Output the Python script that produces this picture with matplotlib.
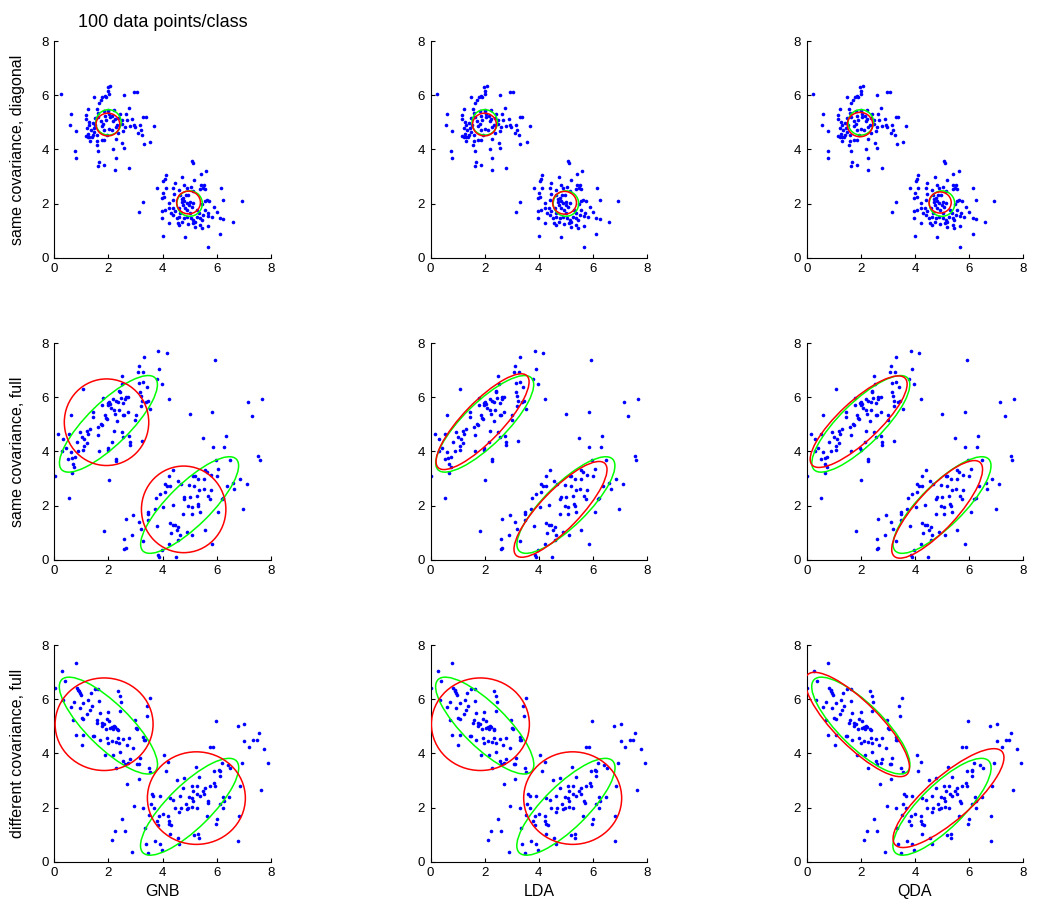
import numpy as np
import matplotlib
matplotlib.use("Agg")
import matplotlib.pyplot as plt
from matplotlib.patches import Ellipse

plt.rcParams['font.family'] = ['Liberation Sans', 'DejaVu Sans']

row_labels = ["same covariance, diagonal", "same covariance, full", "different covariance, full"]
col_labels = ["GNB", "LDA", "QDA"]
title_text = "100 data points/class"
ticks = [0, 2, 4, 6, 8]

# ---------------- data: row 1 (same covariance, diagonal) ----------------
diag_class1 = [
    (0.25, 6.06), (0.61, 5.32), (0.58, 4.90), (0.79, 4.69), (0.77, 3.93), (0.80, 3.67),
    (1.17, 5.29), (1.23, 5.48), (1.16, 5.14), (1.28, 5.01), (1.22, 4.79), (1.30, 4.89),
    (1.34, 4.73), (1.26, 4.57), (1.30, 4.47), (1.32, 4.33), (1.23, 4.47), (1.16, 4.51),
    (1.39, 4.47), (1.42, 4.54), (1.47, 4.79), (1.48, 4.63), (1.50, 5.16), (1.48, 5.94),
    (1.57, 5.50), (1.60, 5.35), (1.63, 5.19), (1.65, 5.72), (1.71, 5.82), (1.78, 5.94),
    (1.87, 5.99), (1.91, 5.93), (1.97, 6.30), (2.00, 6.17), (2.07, 6.35), (2.02, 6.04),
    (1.59, 4.30), (1.57, 4.16), (1.63, 3.93), (1.75, 4.36), (1.85, 4.36), (1.85, 4.71),
    (1.81, 4.94), (1.73, 5.04), (1.87, 5.22), (2.00, 5.47), (2.03, 5.32), (2.15, 5.25),
    (2.22, 5.45), (1.94, 4.54), (2.02, 4.75), (2.12, 4.73), (2.18, 5.04), (2.27, 4.82),
    (2.33, 4.92), (2.37, 5.16), (2.43, 5.32), (2.49, 5.10), (2.49, 4.94), (2.55, 4.70),
    (2.37, 4.61), (2.28, 4.40), (2.18, 4.03), (2.28, 3.70), (2.58, 6.01), (2.95, 6.11),
    (3.06, 6.11), (2.76, 5.53), (2.65, 5.32), (2.68, 5.10), (2.61, 4.83), (2.80, 4.85),
    (2.88, 5.14), (2.93, 4.89), (2.98, 4.83), (3.16, 4.91), (3.29, 5.20), (3.37, 5.20),
    (3.20, 4.73), (3.25, 4.54), (3.55, 4.27), (3.67, 4.85), (3.32, 4.21), (2.58, 4.05),
    (2.77, 3.31), (2.26, 3.24), (1.85, 3.41), (1.66, 3.53), (1.63, 3.37), (2.00, 5.41),
    (2.06, 5.19), (2.24, 5.14), (1.82, 5.41), (1.75, 4.85), (1.59, 4.54), (1.42, 4.98),
    (1.52, 4.91), (3.11, 4.61), (2.52, 4.24), (1.90, 5.10),
]
diag_class2 = [
    (5.08, 3.56), (5.12, 3.49), (5.61, 3.21), (5.42, 3.09), (4.12, 3.04), (4.09, 2.92),
    (4.03, 2.85), (4.73, 2.98), (5.18, 2.88), (4.46, 2.75), (3.81, 2.59), (4.13, 2.57),
    (4.40, 2.59), (4.81, 2.69), (4.89, 2.59), (5.05, 2.63), (5.42, 2.69), (5.53, 2.67),
    (5.48, 2.57), (5.39, 2.54), (5.57, 2.53), (4.01, 2.38), (3.97, 2.22), (4.06, 2.26),
    (4.44, 2.35), (4.65, 2.32), (4.71, 2.17), (4.77, 2.22), (4.87, 2.32), (4.95, 2.32),
    (6.16, 2.57), (6.25, 2.14), (5.63, 2.14), (5.73, 2.08), (5.57, 2.10), (5.47, 1.98),
    (5.90, 1.89), (6.93, 2.11), (3.29, 2.04), (4.22, 1.85), (4.09, 1.77), (3.97, 1.73),
    (4.38, 1.83), (4.59, 1.83), (4.75, 1.95), (4.71, 2.05), (4.81, 2.08), (4.89, 2.01),
    (4.99, 1.95), (5.02, 2.05), (5.14, 2.01), (5.08, 1.89), (4.83, 1.85), (4.30, 1.64),
    (4.40, 1.58), (4.52, 1.48), (4.62, 1.52), (4.65, 1.64), (4.79, 1.46), (4.89, 1.52),
    (5.05, 1.48), (5.14, 1.40), (5.20, 1.33), (5.26, 1.52), (5.39, 1.46), (5.45, 1.40),
    (5.51, 1.56), (5.67, 1.54), (5.69, 1.64), (5.82, 1.52), (6.13, 1.46), (6.25, 1.43),
    (6.59, 1.33), (3.97, 1.48), (4.22, 1.27), (4.62, 1.19), (4.93, 1.24), (5.11, 1.27),
    (5.20, 1.15), (5.39, 1.21), (5.45, 1.09), (5.67, 1.17), (6.13, 0.87), (4.01, 0.80),
    (4.83, 0.78), (5.67, 0.41), (4.46, 1.71), (4.56, 1.30), (4.73, 1.31), (5.02, 1.64),
    (4.92, 1.77), (5.29, 1.77), (5.36, 1.64), (5.57, 1.77), (4.40, 2.14), (4.22, 2.01),
    (4.62, 2.51), (5.14, 2.45), (6.00, 1.70), (3.14, 1.69),
]

# ---------------- data: row 2 (same covariance, full) ----------------
same_class1 = [
    (0.02, 3.11), (0.15, 4.65), (0.31, 4.47), (0.42, 4.12), (0.54, 4.65), (0.52, 3.73),
    (0.62, 5.33), (0.66, 3.75), (0.68, 3.54), (0.74, 3.42), (0.67, 3.21), (0.54, 2.28),
    (0.76, 3.78), (0.60, 3.97), (1.07, 6.31), (1.11, 4.47), (1.07, 4.07), (1.08, 4.19),
    (1.19, 4.77), (1.23, 4.65), (1.19, 4.31), (1.44, 5.29), (1.60, 4.92), (1.64, 4.01),
    (1.75, 4.98), (1.77, 5.73), (1.79, 5.97), (1.87, 5.36), (1.90, 5.23), (1.93, 5.20),
    (1.97, 5.78), (1.99, 5.70), (2.02, 5.82), (1.97, 4.13), (1.99, 4.07), (2.02, 2.93),
    (2.06, 5.75), (2.18, 5.94), (2.20, 5.54), (2.14, 4.34), (2.24, 5.39), (2.28, 5.85),
    (2.27, 3.73), (2.28, 3.63), (2.36, 5.82), (2.39, 5.55), (2.40, 6.25), (2.43, 6.21),
    (2.45, 5.97), (2.49, 6.77), (2.52, 6.49), (2.55, 5.79), (2.55, 5.33), (2.59, 5.33),
    (2.62, 5.94), (2.64, 6.03), (2.55, 4.53), (2.76, 4.56), (2.78, 4.34), (2.80, 4.24),
    (2.73, 6.03), (3.02, 5.33), (3.00, 5.18), (3.09, 6.92), (3.13, 7.17), (3.14, 6.53),
    (3.17, 6.19), (3.20, 6.04), (3.23, 5.88), (3.21, 5.67), (3.23, 4.40), (3.26, 6.95),
    (3.31, 7.50), (3.41, 6.37), (3.39, 5.82), (3.29, 6.56), (3.45, 5.88), (3.54, 5.57),
    (3.78, 6.68), (3.84, 7.70), (3.88, 7.05), (3.97, 6.49), (4.15, 7.64), (4.24, 5.94),
    (1.72, 5.02), (1.32, 4.83), (0.95, 4.71), (0.83, 4.34), (2.73, 5.45), (2.09, 5.60),
    (1.44, 5.45), (0.89, 4.03), (0.30, 4.03), (1.01, 4.53), (2.49, 4.71), (2.20, 4.77),
    (1.84, 1.06), (1.63, 4.59), (2.33, 5.14),
]
same_class2 = [
    (2.65, 1.49), (2.59, 0.75), (2.64, 0.43), (2.59, 0.38), (2.92, 1.64), (2.88, 0.93),
    (3.13, 1.39), (3.20, 1.14), (3.29, 0.68), (3.47, 1.76), (3.47, 1.45), (3.76, 2.28),
    (3.81, 1.24), (3.90, 2.44), (3.84, 0.18), (3.88, 0.10), (3.97, 0.34), (4.09, 2.52),
    (4.09, 2.80), (4.27, 2.74), (4.37, 2.03), (4.37, 1.29), (4.27, 1.35), (4.31, 1.00),
    (4.24, 0.57), (4.40, 3.33), (4.46, 1.27), (4.52, 1.11), (4.49, 0.10), (4.58, 1.21),
    (4.58, 0.71), (4.67, 2.78), (4.80, 2.31), (4.95, 1.98), (5.01, 5.39), (5.01, 2.32),
    (5.07, 1.94), (5.07, 1.70), (5.10, 0.93), (5.17, 2.72), (5.20, 3.08), (5.31, 2.07),
    (5.32, 2.00), (5.32, 2.99), (5.36, 2.56), (5.48, 4.49), (5.53, 2.60), (5.54, 2.99),
    (5.57, 3.30), (5.57, 1.08), (5.63, 3.23), (5.67, 2.37), (5.75, 2.25), (5.79, 3.14),
    (5.84, 5.45), (5.84, 0.59), (5.85, 4.16), (5.94, 7.39), (5.97, 3.70), (6.00, 3.11),
    (6.06, 1.76), (6.18, 2.25), (6.24, 2.28), (6.28, 4.16), (6.34, 4.56), (6.37, 2.72),
    (6.49, 3.70), (6.61, 2.84), (6.65, 2.60), (6.86, 2.99), (6.98, 1.88), (7.11, 2.80),
    (7.14, 5.82), (7.31, 5.30), (7.54, 3.83), (7.60, 3.67), (7.66, 5.94), (4.25, 3.09),
    (4.56, 2.89), (4.79, 2.25), (4.98, 2.77), (4.77, 1.70), (5.38, 1.76), (4.03, 1.94),
    (3.72, 1.86), (4.64, 0.90), (5.14, 3.11), (5.78, 2.56), (5.26, 2.35), (4.89, 1.02),
    (4.15, 2.74), (3.47, 1.70), (6.06, 3.36),
]

# ---------------- data: row 3 (different covariance, full) ----------------
diff_class1 = [
    (0.02, 6.42), (0.27, 7.03), (0.33, 5.99), (0.39, 6.69), (0.60, 5.71), (0.70, 5.25),
    (0.79, 7.34), (0.80, 4.70), (0.83, 6.42), (0.89, 6.36), (0.91, 6.29), (0.95, 6.23),
    (0.95, 5.68), (0.99, 6.17), (1.01, 5.31), (1.03, 4.33), (1.07, 5.29), (1.07, 5.86),
    (1.26, 5.99), (1.35, 6.23), (1.38, 5.74), (1.44, 4.64), (1.48, 4.64), (1.50, 6.38),
    (1.56, 5.13), (1.59, 5.22), (1.63, 6.38), (1.69, 5.50), (1.75, 5.01), (1.76, 5.13),
    (1.69, 4.48), (1.83, 5.07), (1.87, 3.96), (1.91, 4.92), (1.93, 5.29), (1.93, 4.58),
    (1.99, 4.39), (2.06, 4.94), (2.12, 4.97), (2.12, 4.45), (2.16, 3.94), (2.16, 4.92),
    (2.20, 5.01), (2.24, 4.97), (2.28, 4.42), (2.28, 3.47), (2.33, 4.91), (2.34, 6.32),
    (2.36, 4.88), (2.36, 4.58), (2.40, 4.39), (2.43, 6.11), (2.43, 5.58), (2.46, 5.89),
    (2.49, 1.57), (2.55, 4.55), (2.55, 3.72), (2.61, 3.60), (2.24, 1.14), (2.12, 0.80),
    (2.61, 1.12), (2.70, 2.86), (2.73, 3.66), (2.80, 3.78), (2.88, 0.34), (2.92, 4.21),
    (2.95, 2.06), (2.98, 5.25), (3.02, 4.94), (3.04, 4.91), (3.07, 3.62), (3.13, 3.04),
    (3.13, 3.60), (3.17, 3.84), (3.29, 4.60), (3.31, 4.48), (3.35, 4.48), (3.41, 5.74),
    (3.44, 5.37), (3.53, 6.05), (3.50, 3.47), (3.54, 3.32), (3.29, 2.00), (3.35, 1.24),
    (3.39, 0.67), (3.47, 0.31), (2.43, 4.06), (2.67, 4.33), (1.32, 5.62), (1.22, 5.44),
    (2.77, 4.58), (1.99, 5.52), (0.73, 5.89), (1.07, 4.70), (1.65, 5.95), (2.03, 5.19),
]
diff_class2 = [
    (3.51, 1.73), (3.56, 2.15), (3.60, 2.49), (3.66, 2.43), (3.68, 1.98), (3.78, 1.51),
    (3.84, 1.36), (3.87, 1.69), (3.90, 0.65), (3.90, 2.43), (3.97, 0.43), (4.00, 1.75),
    (4.06, 3.94), (4.11, 3.35), (4.21, 3.69), (4.21, 1.69), (4.24, 1.51), (4.25, 1.39),
    (4.27, 1.02), (4.33, 1.36), (4.40, 2.28), (4.46, 2.00), (4.52, 3.01), (4.56, 0.87),
    (4.62, 0.67), (4.64, 2.43), (4.62, 1.82), (4.68, 1.98), (4.79, 3.10), (4.85, 2.12),
    (4.89, 1.94), (4.95, 2.00), (4.98, 2.39), (5.07, 2.80), (5.10, 2.02), (5.11, 2.25),
    (5.07, 2.37), (5.13, 2.61), (5.17, 0.98), (5.22, 3.50), (5.26, 2.80), (5.28, 2.49),
    (5.32, 1.02), (5.34, 0.87), (5.36, 3.13), (5.38, 2.43), (5.48, 2.61), (5.54, 2.49),
    (5.57, 2.71), (5.67, 2.25), (5.69, 2.18), (5.75, 4.23), (5.87, 4.23), (5.90, 2.92),
    (5.94, 2.80), (5.91, 3.35), (5.96, 5.21), (5.96, 1.39), (6.00, 1.57), (6.09, 3.37),
    (6.12, 3.17), (6.12, 2.12), (6.18, 3.66), (6.22, 2.39), (6.24, 2.00), (6.27, 2.25),
    (6.41, 3.56), (6.47, 2.39), (6.51, 3.47), (6.80, 0.77), (6.82, 1.69), (6.92, 3.66),
    (6.77, 5.01), (7.02, 5.09), (7.02, 4.45), (7.20, 4.23), (7.35, 4.48), (7.48, 4.48),
    (7.56, 4.74), (7.64, 2.64), (7.76, 4.15), (7.91, 3.66), (6.86, 2.80), (4.77, 2.74),
    (5.75, 2.80), (5.26, 2.00), (5.63, 1.69), (4.27, 2.37), (6.12, 3.35), (3.72, 0.77),
]

# ---------------- ellipses: (centre x, centre y, semi-axis 1, semi-axis 2, angle deg) ----------------
diag_true = [(2.00, 5.00, 0.47, 0.47, 0), (5.00, 2.00, 0.47, 0.47, 0)]
diag_gnb = [(1.98, 4.92, 0.44, 0.42, 0), (4.96, 2.04, 0.44, 0.42, 0)]
diag_lda = [(1.99, 4.92, 0.44, 0.42, 0), (4.95, 2.03, 0.44, 0.42, 0)]
diag_qda = [(1.97, 4.92, 0.47, 0.45, 0), (4.93, 2.04, 0.41, 0.39, 0)]

same_true = [(2.00, 5.02, 2.42, 0.78, 44.5), (5.00, 2.02, 2.42, 0.78, 44.5)]
same_gnb = [(1.93, 5.08, 1.56, 1.60, 0), (4.78, 1.86, 1.56, 1.60, 0)]
same_lda = [(1.92, 5.10, 2.36, 0.72, 46), (4.80, 1.86, 2.36, 0.72, 46)]
same_qda = [(1.92, 5.10, 2.35, 0.74, 43), (4.82, 1.86, 2.35, 0.74, 47.5)]

diff_true = [(2.00, 5.03, 2.42, 0.80, -44.5), (5.00, 2.03, 2.42, 0.80, 44.5)]
diff_gnb = [(1.84, 5.08, 1.81, 1.71, 0), (5.25, 2.35, 1.81, 1.71, 0)]
diff_lda = [(1.84, 5.08, 1.81, 1.71, 0), (5.25, 2.35, 1.81, 1.71, 0)]
diff_qda = [(1.87, 5.07, 2.60, 0.82, -45), (5.24, 2.35, 2.62, 0.82, 41)]

rows = [
    (diag_class1, diag_class2, diag_true, [diag_gnb, diag_lda, diag_qda]),
    (same_class1, same_class2, same_true, [same_gnb, same_lda, same_qda]),
    (diff_class1, diff_class2, diff_true, [diff_gnb, diff_lda, diff_qda]),
]

W, H = 1050, 921
fig = plt.figure(figsize=(W / 100, H / 100), dpi=100)
fig.patch.set_facecolor("white")

col_left_px = [54.3, 430.6, 806.7]
row_bottom_px = [257.7, 559.7, 861.7]
ax_w_px, ax_h_px = 216.5, 216.5


def add_ellipse(ax, e, color):
    cx, cy, a, b, ang = e
    ax.add_patch(Ellipse((cx, cy), 2 * a, 2 * b, angle=ang, fill=False,
                         edgecolor=color, linewidth=1.1, zorder=3))


for r, (c1, c2, true_e, fits) in enumerate(rows):
    pts = np.array(c1 + c2)
    for c in range(3):
        ax = fig.add_axes([col_left_px[c] / W, 1 - row_bottom_px[r] / H, ax_w_px / W, ax_h_px / H])
        ax.plot(pts[:, 0], pts[:, 1], 'o', color=(0, 0, 1), markersize=2.6,
                markeredgewidth=0, zorder=2)
        for e in true_e:
            add_ellipse(ax, e, (0, 1, 0))
        for e in fits[c]:
            add_ellipse(ax, e, (1, 0, 0))
        ax.set_xlim(0, 8)
        ax.set_ylim(0, 8)
        ax.set_xticks(ticks)
        ax.set_yticks(ticks)
        ax.spines['top'].set_visible(False)
        ax.spines['right'].set_visible(False)
        for s in ('left', 'bottom'):
            ax.spines[s].set_linewidth(0.8)
            ax.spines[s].set_color('black')
        ax.tick_params(direction='in', length=3, width=0.8, labelsize=9.5, pad=4, colors='black')

for r, lab in enumerate(row_labels):
    yc = row_bottom_px[r] - ax_h_px / 2
    fig.text(18 / W, 1 - yc / H, lab, rotation=90, ha='center', va='center', fontsize=11.5)

for c, lab in enumerate(col_labels):
    xc = col_left_px[c] + ax_w_px / 2
    fig.text(xc / W, 1 - 891 / H, lab, ha='center', va='center', fontsize=11.5)

fig.text((col_left_px[0] + ax_w_px / 2) / W, 1 - 22.7 / H, title_text,
         ha='center', va='center', fontsize=13)

fig.savefig("out.png", dpi=100, facecolor="white")
